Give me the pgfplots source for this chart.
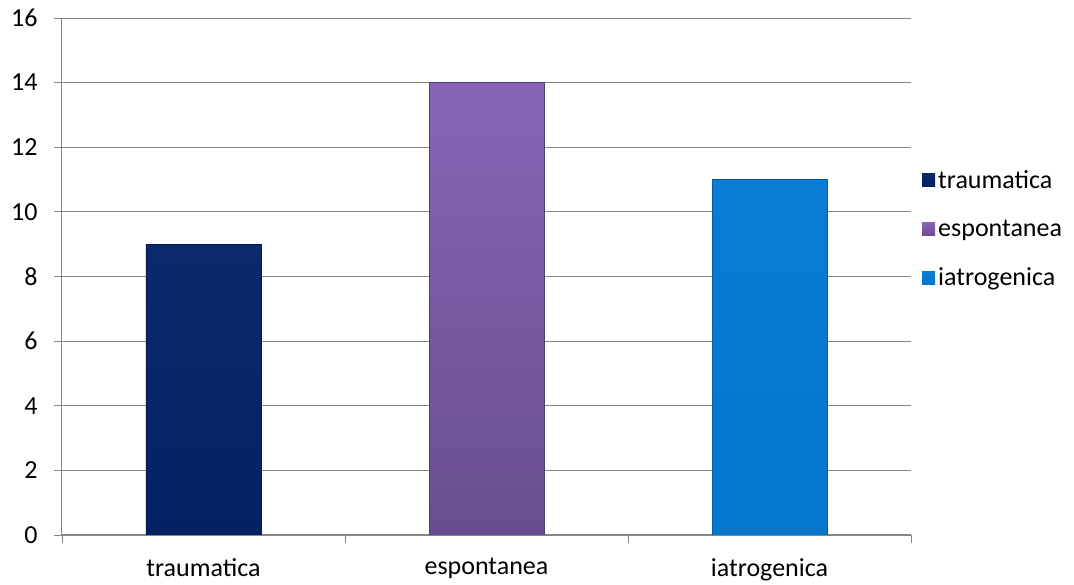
\documentclass[border=0pt]{standalone}
\usepackage{pgfplots}
\pgfplotsset{compat=1.18}
\usepackage{fontspec}
\setmainfont{Carlito}
\definecolor{c1}{RGB}{2,34,98}
\definecolor{c1t}{RGB}{10,42,108}
\definecolor{c2t}{RGB}{136,100,182}
\definecolor{c2b}{RGB}{104,78,142}
\definecolor{c3}{RGB}{4,118,204}
\definecolor{c3t}{RGB}{10,124,210}
\definecolor{gridc}{RGB}{134,134,134}
\begin{document}
\begin{tikzpicture}
\path[use as bounding box] (-62pt,-50pt) rectangle (1012pt,535pt);
\begin{axis}[
  at={(0pt,0pt)}, anchor=south west,
  scale only axis, width=849pt, height=517pt,
  xmin=-0.5, xmax=2.5, ymin=0, ymax=16,
  ybar, bar width=115pt,
  legend image code/.code={\fill[#1,draw=none] (0pt,-6.5pt) rectangle (13pt,6.5pt);},
  ytick={0,2,...,16}, ymajorgrids, grid style={gridc, line width=0.9pt},
  xtick={-0.5,0.5,1.5,2.5}, xticklabels={},
  extra x ticks={0,1,2}, extra x tick labels={traumatica,espontanea,iatrogenica},
  extra x tick style={tick style={draw=none}, grid=none,
     xticklabel style={yshift=-12pt}},
  axis x line*=bottom, axis y line*=left,
  axis line style={gridc, line width=1pt, -},
  tick style={gridc, line width=0.9pt},
  tick align=outside, major tick length=8pt,
  ticklabel style={font=\fontsize{26}{28}\selectfont, text=black},
  yticklabel style={xshift=-13pt},
  /pgf/number format/assume math mode=true,
  legend style={draw=none, fill=none, at={(1.013,0.592)}, anchor=west,
    inner sep=0pt,
    font=\fontsize{26}{28}\selectfont, row sep=26pt,
    legend cell align=left,
    nodes={inner xsep=3pt}},
]
\addplot[bar shift=0pt, draw=c1!80!black, top color=c1t, bottom color=c1] coordinates {(0,9)};
\addplot[bar shift=0pt, draw=c2b!80!black, top color=c2t, bottom color=c2b] coordinates {(1,14)};
\addplot[bar shift=0pt, draw=c3!80!black, top color=c3t, bottom color=c3] coordinates {(2,11)};
\legend{traumatica,espontanea,iatrogenica}
\end{axis}
\end{tikzpicture}
\end{document}
